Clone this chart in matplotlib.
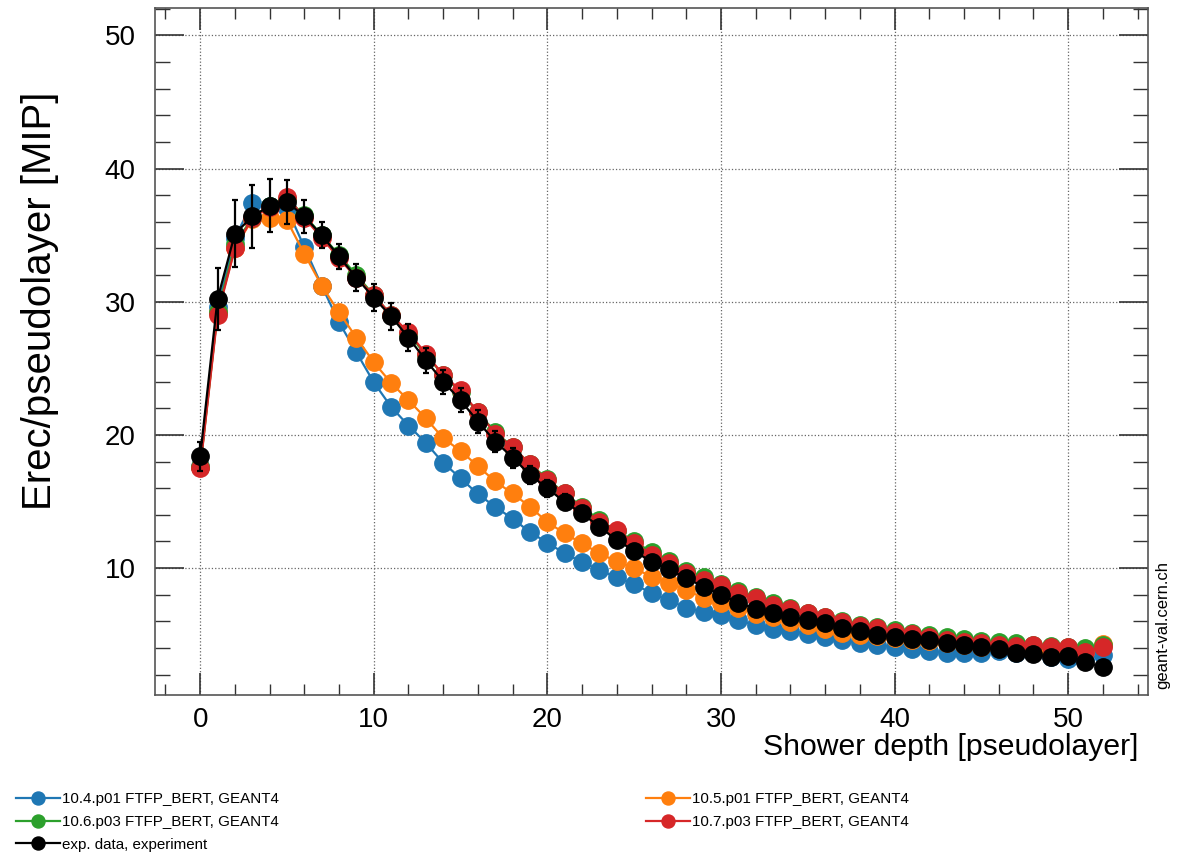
"""Longitudinal shower profile: Geant4 versions vs. experimental data."""
import matplotlib
matplotlib.use("Agg")
import matplotlib.pyplot as plt
from matplotlib.lines import Line2D
from matplotlib.ticker import MultipleLocator
import numpy as np

plt.rcParams["font.family"] = ["Liberation Sans", "DejaVu Sans"]

layers = np.arange(0, 53)

g4_104 = [17.7, 29.6, 34.8, 37.4, 37.2, 37.0, 34.1, 31.2, 28.45, 26.2,
          23.95, 22.1, 20.7, 19.4, 17.9, 16.75, 15.55, 14.6, 13.7, 12.7,
          11.9, 11.1, 10.45, 9.85, 9.3, 8.8, 8.1, 7.6, 7.0, 6.7,
          6.45, 6.1, 5.7, 5.4, 5.3, 5.05, 4.8, 4.6, 4.35, 4.2,
          4.1, 3.95, 3.8, 3.65, 3.6, 3.6, 3.75, 3.65, 3.6, 3.3,
          3.2, 3.2, 3.5]
g4_105 = [17.6, 29.2, 34.0, 36.2, 36.3, 36.1, 33.6, 31.2, 29.2, 27.3,
          25.45, 23.9, 22.6, 21.25, 19.75, 18.8, 17.65, 16.5, 15.6, 14.6,
          13.45, 12.6, 11.85, 11.1, 10.5, 10.0, 9.35, 8.9, 8.35, 7.75,
          7.4, 7.0, 6.55, 6.3, 5.95, 5.7, 5.4, 5.1, 4.95, 4.9,
          4.75, 4.6, 4.5, 4.35, 4.2, 4.1, 4.0, 3.9, 3.8, 3.8,
          3.7, 3.7, 4.3]
g4_106 = [17.6, 29.2, 34.3, 36.3, 37.2, 37.7, 36.5, 35.0, 33.5, 32.0,
          30.5, 29.0, 27.6, 26.0, 24.5, 23.2, 21.7, 20.2, 19.1, 17.8,
          16.7, 15.6, 14.6, 13.6, 12.8, 12.0, 11.2, 10.5, 9.8, 9.3,
          8.8, 8.25, 7.8, 7.35, 7.0, 6.65, 6.35, 6.05, 5.75, 5.55,
          5.35, 5.15, 4.95, 4.8, 4.65, 4.5, 4.45, 4.4, 4.25, 4.15,
          4.05, 4.0, 4.2]
g4_107 = [17.5, 29.0, 34.0, 36.3, 37.1, 37.9, 36.3, 34.8, 33.25, 31.8,
          30.5, 29.0, 27.7, 26.1, 24.5, 23.35, 21.7, 20.1, 19.1, 17.8,
          16.6, 15.6, 14.5, 13.45, 12.85, 11.9, 11.0, 10.4, 9.6, 9.1,
          8.7, 8.1, 7.75, 7.2, 6.9, 6.6, 6.3, 5.95, 5.65, 5.5,
          5.2, 5.05, 4.8, 4.6, 4.45, 4.35, 4.2, 4.15, 4.2, 4.05,
          4.05, 3.7, 4.1]
exp_data = [18.4, 30.2, 35.1, 36.4, 37.2, 37.5, 36.4, 35.0, 33.4, 31.8,
            30.3, 28.9, 27.3, 25.6, 24.0, 22.6, 21.0, 19.5, 18.3, 17.0,
            16.0, 14.95, 14.1, 13.1, 12.1, 11.3, 10.45, 9.9, 9.25, 8.6,
            8.0, 7.4, 6.95, 6.6, 6.35, 6.1, 5.9, 5.5, 5.3, 5.0,
            4.85, 4.65, 4.6, 4.35, 4.2, 4.05, 3.9, 3.6, 3.55, 3.3,
            3.4, 2.95, 2.55]
exp_err = [1.1, 2.3, 2.5, 2.4, 2.0, 1.65, 1.25, 1.0, 0.95, 1.0,
           1.0, 1.0, 1.0, 0.95, 0.9, 0.9, 0.85, 0.8, 0.75, 0.7,
           0.65, 0.6, 0.55, 0.5, 0.45, 0.4, 0.35, 0.3, 0.3, 0.25,
           0.25, 0.2, 0.2, 0.2, 0.15, 0.15, 0.15, 0.15, 0.1, 0.1,
           0.1, 0.1, 0.1, 0.1, 0.1, 0.1, 0.1, 0.1, 0.1, 0.1,
           0.1, 0.1, 0.1]

series = [
    ("10.4.p01 FTFP_BERT, GEANT4", g4_104, "#1f77b4"),
    ("10.5.p01 FTFP_BERT, GEANT4", g4_105, "#ff7f0e"),
    ("10.6.p03 FTFP_BERT, GEANT4", g4_106, "#2ca02c"),
    ("10.7.p03 FTFP_BERT, GEANT4", g4_107, "#d62728"),
]
exp_label = "exp. data, experiment"

fig = plt.figure(figsize=(11.79, 8.58), dpi=100)
ax = fig.add_axes([0.1315, 0.19, 0.8422, 0.8003])

handles = {}
for lab, vals, col in series:
    h, = ax.plot(layers, vals, "o-", color=col, lw=1.6, ms=12.5, mec=col,
                 label=lab, zorder=3)
    handles[lab] = h
ax.errorbar(layers, exp_data, yerr=exp_err, fmt="o-", color="black",
            ms=12.5, lw=1.6, elinewidth=1.6, capsize=2.5, capthick=1.6,
            zorder=4)
handles[exp_label] = Line2D([], [], color="black", marker="o", lw=1.6, ms=12.5)

ax.set_xlim(-2.6, 54.6)
ax.set_ylim(0.47, 52.03)
ax.xaxis.set_major_locator(MultipleLocator(10))
ax.xaxis.set_minor_locator(MultipleLocator(2))
ax.yaxis.set_major_locator(MultipleLocator(10))
ax.yaxis.set_minor_locator(MultipleLocator(2))
ax.tick_params(which="both", direction="in", top=True, right=True,
               labelsize=20, color="#333333")
ax.tick_params(axis="x", which="major", length=16, width=1.2, pad=9)
ax.tick_params(axis="x", which="minor", length=8, width=1.0)
ax.tick_params(axis="y", which="major", length=21, width=1.2, pad=14)
ax.tick_params(axis="y", which="minor", length=11, width=1.0)
for sp in ax.spines.values():
    sp.set_color("#555555")
    sp.set_linewidth(1.2)
ax.grid(which="major", linestyle=":", color="#666666", lw=0.9)

fig.text(1138 / 1179, 1 - 747 / 858, "Shower depth [pseudolayer]",
         ha="right", va="center", fontsize=21.7)
fig.text(40 / 1179, 1 - 92 / 858, "Erec/pseudolayer [MIP]", rotation=90,
         ha="center", va="top", fontsize=29)
fig.text(1163 / 1179, 1 - 625 / 858, "geant-val.cern.ch", rotation=90,
         ha="center", va="center", fontsize=12)

leg_kw = dict(frameon=False, fontsize=10.9, handlelength=2.9,
              handletextpad=0.12, labelspacing=0.58, markerscale=0.75,
              borderaxespad=0)
left = [series[0][0], series[2][0], exp_label]
fig.legend([handles[k] for k in left], left, loc="upper left",
           bbox_to_anchor=(10 / 1179, 1 - 786 / 858), **leg_kw)
right = [series[1][0], series[3][0]]
fig.legend([handles[k] for k in right], right, loc="upper left",
           bbox_to_anchor=(640 / 1179, 1 - 786 / 858), **leg_kw)

fig.savefig("out.png", dpi=100)
